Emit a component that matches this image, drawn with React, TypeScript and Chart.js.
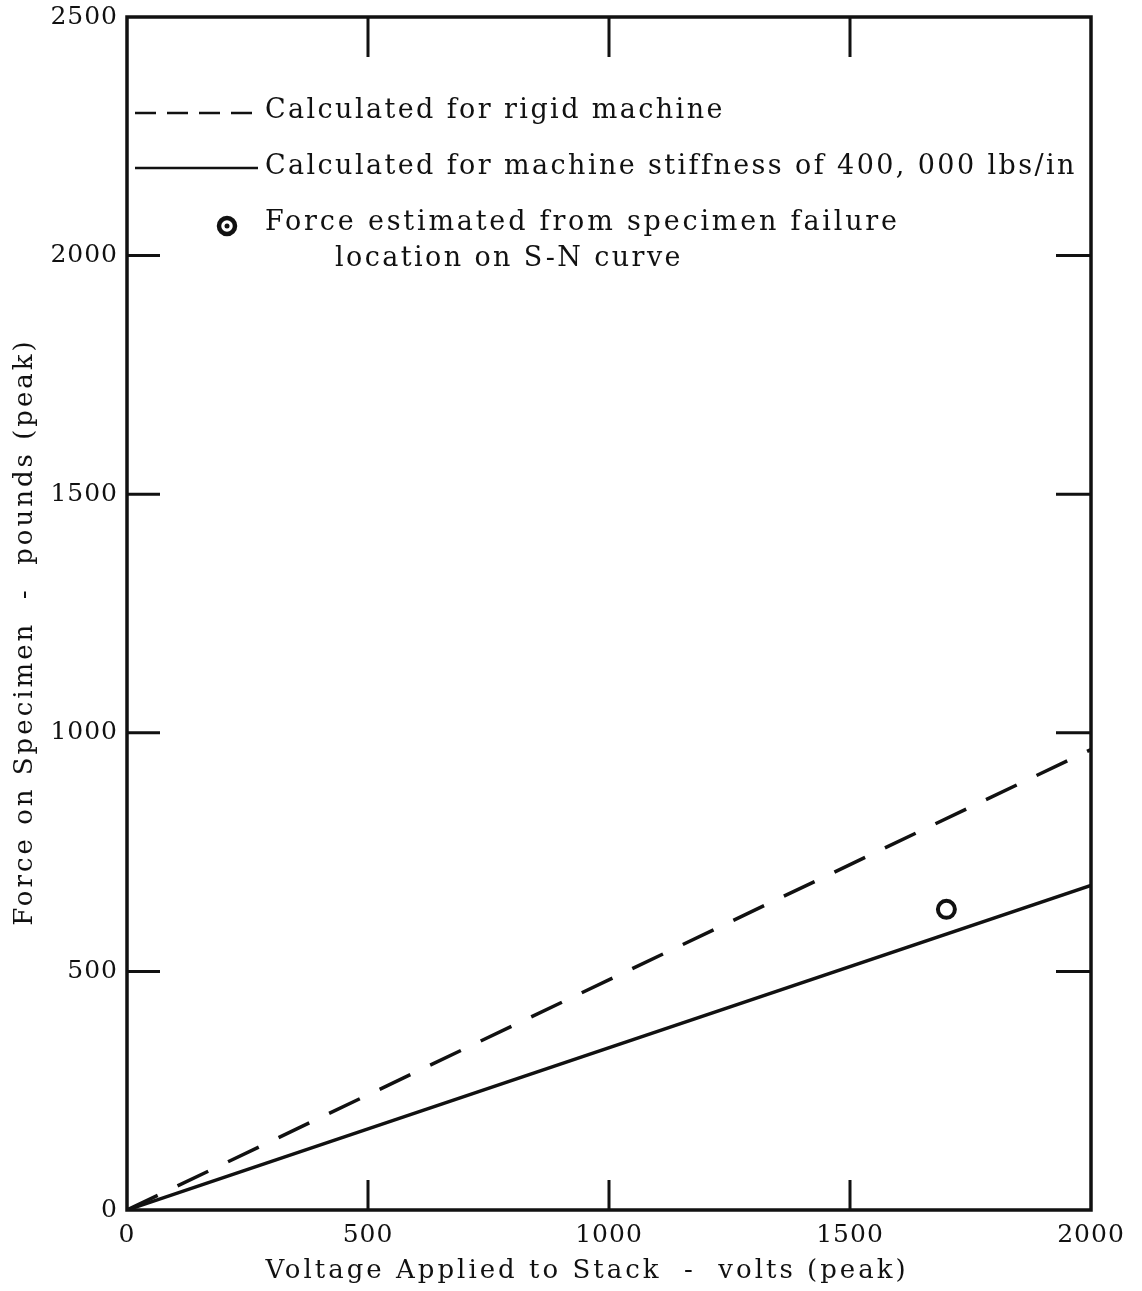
import React, { useEffect, useRef } from "react";
import { Chart, registerables } from "chart.js";

Chart.register(...registerables);

// ---- data ----
const voltage = [0, 2000];
const rigidForce = [0, 965];
const stiffForce = [0, 680];
const estimatedVoltage = [1700];
const estimatedForce = [630];
const xTickValues = [0, 500, 1000, 1500, 2000];
const yTickValues = [0, 500, 1000, 1500, 2000, 2500];
const legendRigid = "Calculated for rigid machine";
const legendStiff = "Calculated for machine stiffness of 400, 000 lbs/in";
const legendEst1 = "Force estimated from specimen failure";
const legendEst2 = "location on S-N curve";
const xTitle = "Voltage Applied to Stack  -  volts (peak)";
const yTitle = "Force on Specimen  -  pounds (peak)";

const FONT = "'DejaVu Serif', 'Liberation Serif', serif";
const INK = "#111";

const spacingPlugin = {
  id: "spacingPlugin",
  beforeDraw(chart: any) {
    (chart.ctx as any).letterSpacing = "1px";
  },
};

const framePlugin = {
  id: "framePlugin",
  afterDraw(chart: any) {
    const { ctx, chartArea: a, scales } = chart;
    const xs = scales.x;
    const ys = scales.y;
    ctx.save();
    ctx.strokeStyle = INK;
    ctx.lineCap = "butt";
    // frame
    ctx.lineWidth = 3.5;
    ctx.strokeRect(a.left, a.top, a.right - a.left, a.bottom - a.top);
    // inner tick marks
    ctx.lineWidth = 3;
    ctx.beginPath();
    for (const v of yTickValues) {
      if (v === yTickValues[0] || v === yTickValues[yTickValues.length - 1]) continue;
      const y = ys.getPixelForValue(v);
      ctx.moveTo(a.left, y);
      ctx.lineTo(a.left + 33, y);
      ctx.moveTo(a.right, y);
      ctx.lineTo(a.right - 35, y);
    }
    for (const v of xTickValues) {
      if (v === xTickValues[0] || v === xTickValues[xTickValues.length - 1]) continue;
      const x = xs.getPixelForValue(v);
      ctx.moveTo(x, a.top);
      ctx.lineTo(x, a.top + 40);
      ctx.moveTo(x, a.bottom);
      ctx.lineTo(x, a.bottom - 30);
    }
    ctx.stroke();

    ctx.fillStyle = INK;
    (ctx as any).letterSpacing = "3px";

    // axis titles
    ctx.font = `26px ${FONT}`;
    ctx.textBaseline = "middle";
    ctx.textAlign = "center";
    ctx.fillText(xTitle, 587, 1271);
    ctx.save();
    ctx.translate(25, 632);
    ctx.rotate(-Math.PI / 2);
    ctx.fillText(yTitle, 0, 0);
    ctx.restore();

    // legend
    (ctx as any).letterSpacing = "2.4px";
    const lx0 = a.left + 8;
    const lx1 = a.left + 131;
    const tx = a.left + 138;
    ctx.font = `27px ${FONT}`;
    ctx.textBaseline = "middle";
    ctx.textAlign = "left";
    // dashed
    ctx.lineWidth = 2.5;
    ctx.setLineDash([21, 11]);
    ctx.beginPath();
    ctx.moveTo(lx0, 113);
    ctx.lineTo(lx1, 113);
    ctx.stroke();
    ctx.setLineDash([]);
    ctx.fillText(legendRigid, tx, 111);
    // solid
    ctx.beginPath();
    ctx.moveTo(lx0, 168);
    ctx.lineTo(lx1, 168);
    ctx.stroke();
    ctx.fillText(legendStiff, tx, 167);
    // marker
    ctx.lineWidth = 4.5;
    ctx.beginPath();
    ctx.arc(a.left + 100, 226, 8, 0, Math.PI * 2);
    ctx.stroke();
    ctx.beginPath();
    ctx.arc(a.left + 100, 226, 2.5, 0, Math.PI * 2);
    ctx.fill();
    (ctx as any).letterSpacing = "2.8px";
    ctx.fillText(legendEst1, tx, 223);
    (ctx as any).letterSpacing = "2.4px";
    ctx.fillText(legendEst2, tx + 70, 259);
    ctx.restore();
  },
};

export default function App() {
  const ref = useRef<HTMLCanvasElement | null>(null);

  useEffect(() => {
    if (!ref.current) return;
    Chart.defaults.font.family = FONT;
    Chart.defaults.color = INK;
    const chart = new Chart(ref.current, {
      type: "scatter",
      data: {
        datasets: [
          {
            type: "line",
            label: legendRigid,
            data: voltage.map((v, i) => ({ x: v, y: rigidForce[i] })),
            borderColor: INK,
            borderWidth: 3.5,
            borderDash: [34, 22],
            pointRadius: 0,
            fill: false,
          },
          {
            type: "line",
            label: legendStiff,
            data: voltage.map((v, i) => ({ x: v, y: stiffForce[i] })),
            borderColor: INK,
            borderWidth: 3.5,
            pointRadius: 0,
            fill: false,
          },
          {
            label: legendEst1,
            data: estimatedVoltage.map((v, i) => ({ x: v, y: estimatedForce[i] })),
            pointRadius: 8.5,
            pointBorderWidth: 4,
            pointBorderColor: INK,
            pointBackgroundColor: "#fff",
          },
          {
            label: "center",
            data: estimatedVoltage.map((v, i) => ({ x: v, y: estimatedForce[i] })),
            pointRadius: 2.5,
            pointBorderWidth: 0,
            pointBackgroundColor: INK,
          },
        ],
      } as any,
      options: {
        animation: false,
        responsive: false,
        devicePixelRatio: 1,
        layout: { padding: { top: 17, right: 51, left: 0, bottom: 0 } },
        plugins: { legend: { display: false }, tooltip: { enabled: false } },
        scales: {
          x: {
            type: "linear",
            min: 0,
            max: 2000,
            afterBuildTicks: (s: any) => {
              s.ticks = xTickValues.map((v) => ({ value: v }));
            },
            afterFit: (s: any) => {
              s.height = 81;
            },
            grid: { display: false, drawTicks: false },
            border: { display: false },
            ticks: {
              padding: 10,
              font: { size: 25 },
              color: INK,
              maxRotation: 0,
              callback: (v: any) => String(v),
            },
            title: { display: false, text: xTitle },
          },
          y: {
            type: "linear",
            min: 0,
            max: 2500,
            afterBuildTicks: (s: any) => {
              s.ticks = yTickValues.map((v) => ({ value: v }));
            },
            afterFit: (s: any) => {
              s.width = 127;
              s.paddingTop = 0;
              s.paddingBottom = 0;
            },
            grid: { display: false, drawTicks: false },
            border: { display: false },
            ticks: {
              padding: 9,
              font: { size: 25 },
              color: INK,
              callback: (v: any) => String(v),
            },
            title: { display: false, text: yTitle },
          },
        },
      } as any,
      plugins: [spacingPlugin, framePlugin],
    });
    return () => chart.destroy();
  }, []);

  return (
    <div style={{ position: "absolute", left: 0, top: 0, width: 1142, height: 1291, background: "#fff" }}>
      <canvas ref={ref} width={1142} height={1291} style={{ display: "block" }} />
    </div>
  );
}
